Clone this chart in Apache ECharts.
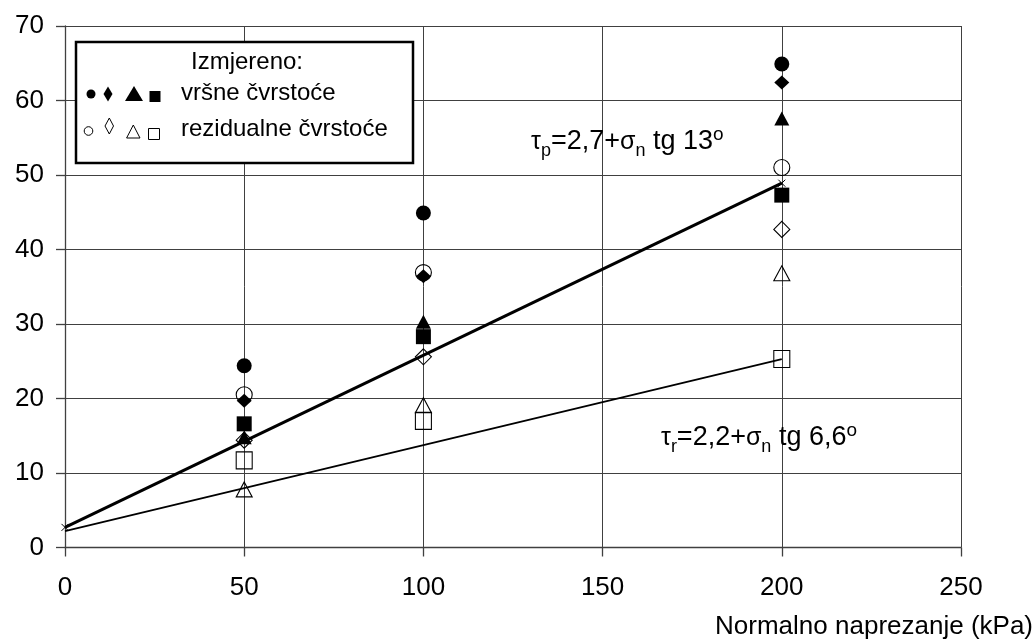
<!DOCTYPE html>
<html>
<head>
<meta charset="utf-8">
<script src="https://cdn.jsdelivr.net/npm/echarts@6/dist/echarts.min.js"></script>
<style>
html,body{margin:0;padding:0;background:#fff;}
#chart{width:1036px;height:642px;}
</style>
</head>
<body>
<div id="chart"></div>
<script>
// Normal stress (kPa) at which the tests were run
const xValues = [50, 100, 200];
// Peak strengths (filled markers)
const peakCircle   = [24.4, 44.9, 64.9];
const peakDiamond  = [19.7, 36.4, 62.4];
const peakTriangle = [14.8, 30.3, 57.6];
const peakSquare   = [16.6, 28.3, 47.3];
// Residual strengths (open markers)
const resCircle   = [20.5, 36.9, 51.0];
const resDiamond  = [14.4, 25.6, 42.7];
const resTriangle = [7.8, 19.1, 36.8];
const resSquare   = [11.7, 17.0, 25.3];
// Fitted envelopes
const fitX    = [0, 200];
const peakFit = [2.7, 48.9];
const resFit  = [2.2, 25.3];
// Texts
const xAxisTitle = 'Normalno naprezanje (kPa)';
const legendTitle = 'Izmjereno:';
const legendPeak = 'vršne čvrstoće';
const legendRes = 'rezidualne čvrstoće';

const FONT = 'Liberation Sans, Arial, sans-serif';
const pairs = (vals) => xValues.map((x, i) => [x, vals[i]]);
const fitPairs = (vals) => fitX.map((x, i) => [x, vals[i]]);

function filled(data, symbol, size) {
  return { type: 'scatter', data: pairs(data), symbol: symbol, symbolSize: size, z: 4,
    itemStyle: { color: '#000', borderWidth: 0, opacity: 1 } };
}
function open(data, symbol, size) {
  return { type: 'scatter', data: pairs(data), symbol: symbol, symbolSize: size, z: 3,
    itemStyle: { color: 'rgba(0,0,0,0)', borderColor: '#000', borderWidth: 1.1, opacity: 1 } };
}

const eqRich = {
  g: { fontSize: 25, fontFamily: FONT, fill: '#000' },
  sub: { fontSize: 18, fontFamily: FONT, fill: '#000', padding: [18, 0, 0, 0] },
  n: { fontSize: 27, fontFamily: FONT, fill: '#000' },
  sup: { fontSize: 19, fontFamily: FONT, fill: '#000', padding: [0, 0, 14, 0] }
};

const chart = echarts.init(document.getElementById('chart'), null, { renderer: 'canvas' });
const axisCol = '#404040';
const option = {
  animation: false,
  backgroundColor: '#fff',
  textStyle: { fontFamily: FONT },
  grid: { left: 65, right: 75, top: 26, bottom: 94.5, containLabel: false },
  title: {
    text: xAxisTitle, right: 3, top: 614, padding: 0,
    textStyle: { fontSize: 26, fontWeight: 'normal', color: '#000', fontFamily: FONT }
  },
  xAxis: {
    type: 'value', min: 0, max: 250, interval: 50,
    axisLine: { show: true, lineStyle: { color: axisCol, width: 1.3 } },
    axisTick: { show: true, length: 9, lineStyle: { color: axisCol, width: 1.3 } },
    axisLabel: { fontSize: 26, color: '#000', margin: 27, fontFamily: FONT },
    splitLine: { show: true, lineStyle: { color: axisCol, width: 1 } }
  },
  yAxis: {
    type: 'value', min: 0, max: 70, interval: 10,
    axisLine: { show: true, lineStyle: { color: axisCol, width: 1.3 } },
    axisTick: { show: true, length: 9, lineStyle: { color: axisCol, width: 1.3 } },
    axisLabel: { fontSize: 26, color: '#000', margin: 21, fontFamily: FONT },
    splitLine: { show: true, lineStyle: { color: axisCol, width: 1 } }
  },
  series: [
    open(resCircle, 'circle', 16),
    open(resDiamond, 'diamond', [16, 16]),
    open(resTriangle, 'triangle', [16, 15]),
    open(resSquare, 'rect', [16, 17]),
    filled(peakCircle, 'circle', 15),
    filled(peakDiamond, 'diamond', [15, 14]),
    filled(peakTriangle, 'triangle', [15, 14]),
    filled(peakSquare, 'rect', [15, 15]),
    { type: 'line', data: fitPairs(peakFit), z: 5,
      lineStyle: { color: '#000', width: 3 },
      symbol: 'path://M0,0L10,10M10,0L0,10', symbolSize: 7, showSymbol: true,
      itemStyle: { color: 'rgba(0,0,0,0)', borderColor: '#000', borderWidth: 1 } },
    { type: 'line', data: fitPairs(resFit), z: 5,
      lineStyle: { color: '#000', width: 1.8 }, symbol: 'none' }
  ],
  graphic: [
    { type: 'rect', z: 100, shape: { x: 76, y: 42, width: 337, height: 121 },
      style: { fill: '#fff', stroke: '#000', lineWidth: 2.5 } },
    { type: 'text', z: 101, x: 247, y: 62,
      style: { text: legendTitle, font: '24px ' + FONT, fill: '#000', align: 'center', verticalAlign: 'middle' } },
    { type: 'text', z: 101, x: 181, y: 93,
      style: { text: legendPeak, font: '24px ' + FONT, fill: '#000', align: 'left', verticalAlign: 'middle' } },
    { type: 'text', z: 101, x: 181, y: 129.5,
      style: { text: legendRes, font: '24px ' + FONT, fill: '#000', align: 'left', verticalAlign: 'middle' } },
    // legend symbols row 1 (filled)
    { type: 'circle', z: 101, shape: { cx: 91, cy: 94, r: 4.5 }, style: { fill: '#000' } },
    { type: 'polygon', z: 101, shape: { points: [[108, 86.5], [112.5, 94], [108, 101.5], [103.5, 94]] }, style: { fill: '#000' } },
    { type: 'polygon', z: 101, shape: { points: [[134, 86], [143, 101], [125, 101]] }, style: { fill: '#000' } },
    { type: 'rect', z: 101, shape: { x: 149.5, y: 91, width: 11, height: 11 }, style: { fill: '#000' } },
    // legend symbols row 2 (open)
    { type: 'circle', z: 101, shape: { cx: 88.5, cy: 131, r: 4.3 }, style: { fill: 'none', stroke: '#000', lineWidth: 1 } },
    { type: 'polygon', z: 101, shape: { points: [[109.3, 118], [113.5, 126], [109.3, 134], [105, 126]] }, style: { fill: 'none', stroke: '#000', lineWidth: 1 } },
    { type: 'polygon', z: 101, shape: { points: [[133.3, 125], [140, 138], [126.6, 138]] }, style: { fill: 'none', stroke: '#000', lineWidth: 1 } },
    { type: 'rect', z: 101, shape: { x: 148.5, y: 128.5, width: 11, height: 11 }, style: { fill: 'none', stroke: '#000', lineWidth: 1 } },
    // equations
    { type: 'text', z: 101, x: 531, y: 142,
      style: {
        text: '{g|τ}{sub|p}{n|=2,7+}{g|σ}{sub|n}{n| tg 13}{sup|o}',
        align: 'left', verticalAlign: 'middle', fill: '#000', rich: eqRich
      } },
    { type: 'text', z: 101, x: 661, y: 438,
      style: {
        text: '{g|τ}{sub|r}{n|=2,2+}{g|σ}{sub|n}{n| tg 6,6}{sup|o}',
        align: 'left', verticalAlign: 'middle', fill: '#000', rich: eqRich
      } }
  ]
};
chart.setOption(option);
</script>
</body>
</html>
